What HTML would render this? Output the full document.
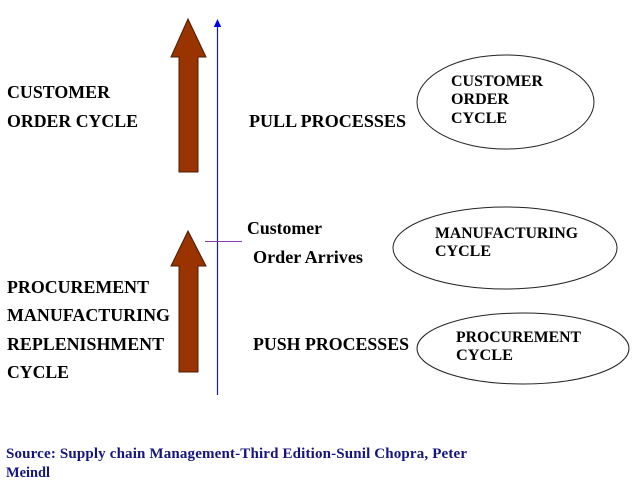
<!DOCTYPE html>
<html>
<head>
<meta charset="utf-8">
<style>
  html, body { margin: 0; padding: 0; background: #ffffff; }
  body { width: 634px; height: 491px; overflow: hidden; }
  svg { display: block; }
  text { font-family: "Liberation Serif", "Times New Roman", serif; font-weight: bold; fill: #000; }
</style>
</head>
<body>
<svg width="634" height="491" viewBox="0 0 634 491" xmlns="http://www.w3.org/2000/svg">
  <rect width="634" height="491" fill="#ffffff"/>

  <!-- Brown arrows -->
  <polygon points="188,19 171,57 179,57 179,172 198,172 198,57 206,57" fill="#993300" stroke="#4a1c00" stroke-width="1"/>
  <polygon points="188,231 171,266 179,266 179,372 198,372 198,266 206,266" fill="#993300" stroke="#4a1c00" stroke-width="1"/>

  <!-- Blue vertical axis with arrowhead -->
  <line x1="217.5" y1="25" x2="217.5" y2="395" stroke="#1a1aa8" stroke-width="1.2"/>
  <polygon points="217.5,19 213.8,27 221.2,27" fill="#0000ee"/>

  <!-- purple tick -->
  <rect x="205" y="241" width="37" height="1" fill="#7f3fb0" shape-rendering="crispEdges"/>

  <!-- Ellipses -->
  <ellipse cx="505.5" cy="102" rx="88.5" ry="47" fill="none" stroke="#222" stroke-width="1"/>
  <ellipse cx="505" cy="248" rx="112" ry="41" fill="none" stroke="#222" stroke-width="1"/>
  <ellipse cx="523" cy="348.5" rx="106" ry="35.5" fill="none" stroke="#222" stroke-width="1"/>

  <!-- Left labels -->
  <text x="7" y="98" font-size="18" textLength="103" lengthAdjust="spacingAndGlyphs">CUSTOMER</text>
  <text x="7" y="127" font-size="18" textLength="131" lengthAdjust="spacingAndGlyphs">ORDER CYCLE</text>

  <text x="7" y="293" font-size="18" textLength="142" lengthAdjust="spacingAndGlyphs">PROCUREMENT</text>
  <text x="7" y="321" font-size="18" textLength="163" lengthAdjust="spacingAndGlyphs">MANUFACTURING</text>
  <text x="7" y="350" font-size="18" textLength="157" lengthAdjust="spacingAndGlyphs">REPLENISHMENT</text>
  <text x="7" y="378" font-size="18" textLength="62" lengthAdjust="spacingAndGlyphs">CYCLE</text>

  <!-- Middle labels -->
  <text x="249" y="127" font-size="18" textLength="157" lengthAdjust="spacingAndGlyphs">PULL PROCESSES</text>
  <text x="247" y="234" font-size="18" textLength="75" lengthAdjust="spacingAndGlyphs">Customer</text>
  <text x="253" y="263" font-size="18" textLength="110" lengthAdjust="spacingAndGlyphs">Order Arrives</text>
  <text x="253" y="350" font-size="18" textLength="156" lengthAdjust="spacingAndGlyphs">PUSH PROCESSES</text>

  <!-- Ellipse labels -->
  <text x="451" y="86" font-size="16" textLength="92" lengthAdjust="spacingAndGlyphs">CUSTOMER</text>
  <text x="451" y="104" font-size="16" textLength="58" lengthAdjust="spacingAndGlyphs">ORDER</text>
  <text x="451" y="123" font-size="16" textLength="56" lengthAdjust="spacingAndGlyphs">CYCLE</text>

  <text x="435" y="238" font-size="16" textLength="143" lengthAdjust="spacingAndGlyphs">MANUFACTURING</text>
  <text x="435" y="256" font-size="16" textLength="56" lengthAdjust="spacingAndGlyphs">CYCLE</text>

  <text x="456" y="342" font-size="16" textLength="125" lengthAdjust="spacingAndGlyphs">PROCUREMENT</text>
  <text x="456" y="360" font-size="16" textLength="57" lengthAdjust="spacingAndGlyphs">CYCLE</text>

  <!-- Source -->
  <text x="6" y="458" font-size="15" style="fill:#14147e" textLength="461" lengthAdjust="spacing">Source: Supply chain Management-Third Edition-Sunil Chopra, Peter</text>
  <text x="6" y="477" font-size="15" style="fill:#14147e" textLength="44" lengthAdjust="spacingAndGlyphs">Meindl</text>
</svg>
</body>
</html>
